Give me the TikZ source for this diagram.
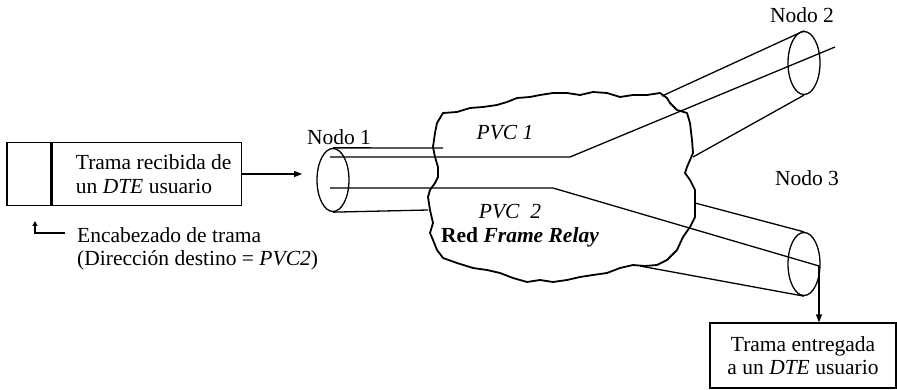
\documentclass[tikz,border=0pt]{standalone}
\usepackage{fontspec}
\setmainfont{Liberation Serif}
\usepackage{tikz}
\usetikzlibrary{shapes.geometric, arrows.meta, positioning, calc}

\begin{document}
\begin{tikzpicture}[
    x=1pt, y=-1pt,
    txt/.style={inner sep=0pt, font=\fontsize{21.5}{23.5}\selectfont},
    frame/.style={draw, line width=1.2pt, minimum height=63pt, font=\fontsize{21.5}{23.5}\selectfont},
    tube/.style={ellipse, draw, line width=1.3pt, minimum width=32pt, minimum height=63pt, inner sep=0pt},
    pipe/.style={line width=1.3pt},
    cloudline/.style={line width=1.8pt, line join=round},
    arrow/.style={-{Triangle[length=8pt, width=6pt]}, line width=1.2pt},
    tick/.style={-{Triangle[length=5pt, width=5pt]}, line width=1.3pt},
]
\useasboundingbox (0,0) rectangle (897,390);

% Frame received from the user DTE
\node[frame, minimum width=44pt] (hdr) at (29,174) {};
\node[frame, anchor=west, minimum width=189pt, inner xsep=6pt, align=left] (trama) at (hdr.east) {\hspace*{14pt}Trama recibida de\\\hspace*{14pt}un \textit{DTE} usuario};
\node[txt, anchor=west, align=left] (encab) at (77,249) {Encabezado de trama\\(Dirección destino = \textit{PVC2})};
\coordinate (hdrtip) at (35,221);

% Frame Relay network
\draw[cloudline] (443,113) -- (457,112) -- (470,108) -- (483,107) -- (497,105) -- (507,102)
  -- (517,98) -- (530,97) -- (540,95) -- (553,93) -- (567,93) -- (580,95) -- (593,92)
  -- (607,93) -- (620,97) -- (633,95) -- (647,95) -- (660,93) -- (667,98) -- (670,103)
  -- (677,110) -- (687,113) -- (690,123) -- (692,140) -- (693,153) -- (687,167)
  -- (685,173) -- (690,180) -- (695,190) -- (695,203) -- (695,217) -- (690,227)
  -- (683,237) -- (677,250) -- (667,260) -- (657,265) -- (645,266) -- (633,265)
  -- (620,268) -- (607,273) -- (593,275) -- (580,277) -- (567,280) -- (553,282)
  -- (540,280) -- (527,282) -- (513,278) -- (500,273) -- (487,270) -- (473,268)
  -- (457,263) -- (443,258) -- (437,250) -- (433,240) -- (430,233) -- (433,223)
  -- (430,210) -- (428,197) -- (430,190) -- (435,183) -- (438,177) -- (438,167)
  -- (435,157) -- (433,147) -- (435,133) -- (437,123) -- cycle;
\node[txt] (pvc1) at (505,133) {\textit{PVC 1}};
\node[txt] (pvc2) at (510,212) {\textit{PVC\ \ 2}};
\node[txt] (red) at (520,237) {\textbf{Red \textit{Frame Relay}}};

% Nodes
\node[tube] (n1) at (333,180) {};
\node[tube] (n2) at (804,63) {};
\node[tube] (n3) at (804,264) {};
\node[txt] (lab1) at (339,137) {Nodo 1};
\node[txt] (lab2) at (802,15) {Nodo 2};
\node[txt] (lab3) at (807,178) {Nodo 3};
\coordinate (n1in) at (302,174);
\coordinate (n3out) at (819,266);

% Delivered frame
\node[frame, minimum width=186pt, minimum height=65pt, align=center] (deliv) at (803,355.5) {Trama entregada\\a un \textit{DTE} usuario};

% --- Pipes ---
\draw[pipe] (n1.north) -- (443,148);
\draw[pipe] (n1.south) -- (428,210);
\draw[pipe] (662,96) -- (n2.north);
\draw[pipe] (693,157) -- (n2.south);
\draw[pipe] (695,203) -- (n3.north);
\draw[pipe] (640,266) -- (n3.south);

% PVC 1 and PVC 2
\draw[pipe] (330,157) -- (570,157) -- (835,47);
\draw[pipe] (330,188) -- (553,188) -- (n3out);

% --- Arrows ---
\draw[arrow] (trama.east |- n1in) -- (n1in);
\draw[arrow] (n3out) -- (n3out |- deliv.north);
\draw[tick] ([xshift=-12pt, yshift=16pt]encab.west) -| (hdrtip);

\end{tikzpicture}
\end{document}
